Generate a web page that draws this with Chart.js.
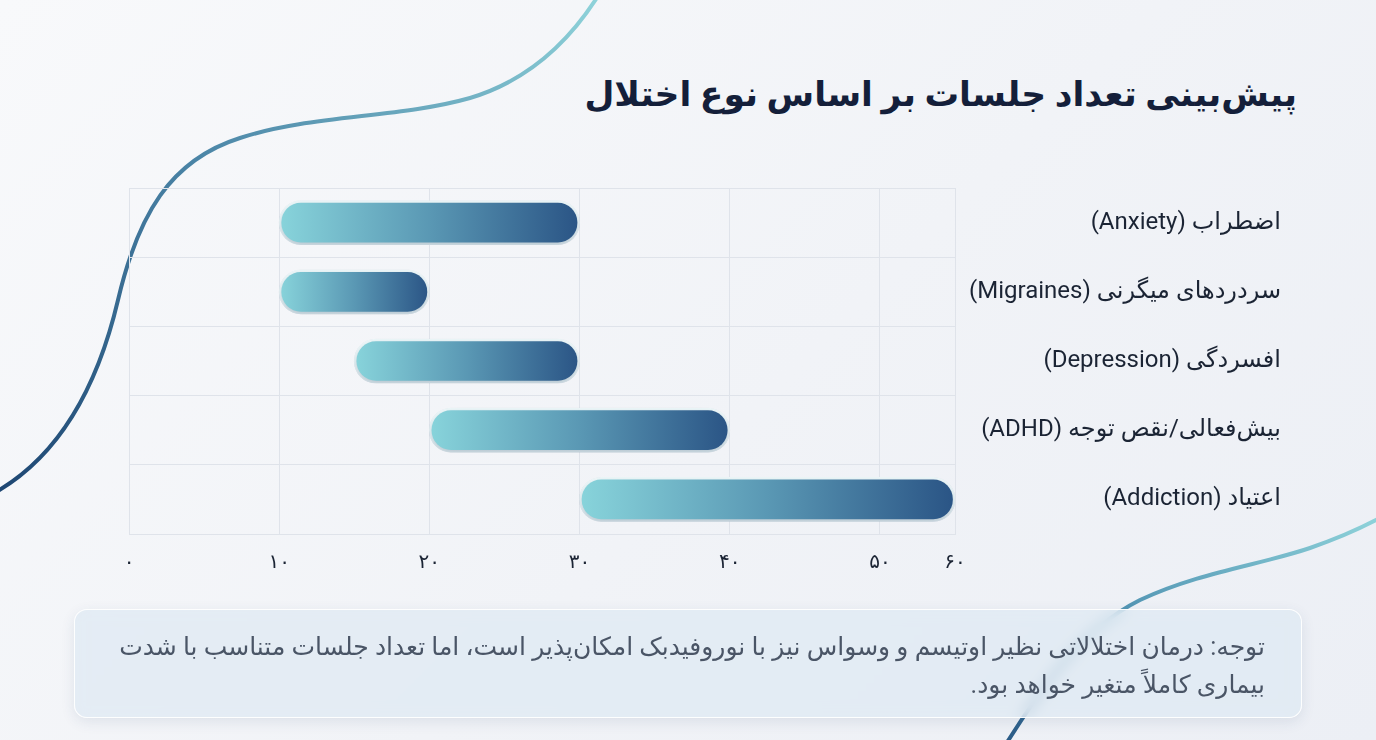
<!DOCTYPE html>
<html lang="fa">
<head>
<meta charset="utf-8">
<script src="https://cdn.jsdelivr.net/npm/chart.js@4/dist/chart.umd.min.js"></script>
<style>
  html,body{margin:0;padding:0;}
  body{width:1376px;height:740px;overflow:hidden;position:relative;
    background:linear-gradient(135deg,#f8f9fb 0%,#f1f3f7 55%,#eceff5 100%);
    font-family:Roboto,"DejaVu Sans",sans-serif;}
  #deco{position:absolute;left:0;top:0;width:1376px;height:740px;}
  #wrap{position:absolute;left:0;top:0;width:1376px;height:740px;}
  #c{direction:rtl;}
  #title{position:absolute;right:79px;top:74px;direction:rtl;white-space:nowrap;
    font-size:34.5px;font-weight:bold;color:#141f3a;}
  #note{position:absolute;left:74px;top:609px;width:1228px;height:109px;box-sizing:border-box;
    border-radius:13px;background:rgba(222,233,243,0.72);border:1.5px solid rgba(255,255,255,0.9);
    box-shadow:0 4px 14px rgba(40,70,110,0.10);backdrop-filter:blur(7px);-webkit-backdrop-filter:blur(7px);
    direction:rtl;text-align:right;padding:18px 36px 0 30px;color:#4a5566;font-size:25px;line-height:38px;white-space:nowrap;}
</style>
</head>
<body>
<svg id="deco" viewBox="0 0 1376 740">
  <defs>
    <linearGradient id="g1" x1="0" y1="1" x2="1" y2="0">
      <stop offset="0" stop-color="#1d4672"/>
      <stop offset="0.5" stop-color="#4a84a6"/>
      <stop offset="1" stop-color="#8fd3da"/>
    </linearGradient>
    <linearGradient id="g2" x1="0" y1="1" x2="1" y2="0">
      <stop offset="0" stop-color="#2a5a86"/>
      <stop offset="0.4" stop-color="#4d8fb0"/>
      <stop offset="1" stop-color="#8fd3da"/>
    </linearGradient>
  </defs>
  <path d="M -4 492 C 60 455, 98 385, 118 300 C 138 215, 170 160, 240 138 C 310 115, 400 118, 470 98 C 530 80, 570 40, 598 -4" fill="none" stroke="url(#g1)" stroke-width="4" stroke-linecap="round"/>
  <path d="M 1006 744 C 1040 690, 1080 630, 1140 600 C 1200 572, 1260 565, 1310 548 C 1345 536, 1365 526, 1380 518" fill="none" stroke="url(#g2)" stroke-width="4" stroke-linecap="round"/>
</svg>
<div id="title">پیش‌بینی تعداد جلسات بر اساس نوع اختلال</div>
<div id="wrap"><canvas id="c" width="1376" height="740"></canvas></div>
<div id="note">توجه: درمان اختلالاتی نظیر اوتیسم و وسواس نیز با نوروفیدبک امکان‌پذیر است، اما تعداد جلسات متناسب با شدت<br>بیماری کاملاً متغیر خواهد بود.</div>
<script>
const categories = ['اضطراب (Anxiety)', 'سردردهای میگرنی (Migraines)', 'افسردگی (Depression)', 'بیش‌فعالی/نقص توجه (ADHD)', 'اعتیاد (Addiction)'];
const sessionStart = [10, 10, 15, 20, 30];
const sessionEnd = [30, 20, 30, 40, 55];
const tickValues = [0, 10, 20, 30, 40, 50, 55];
const tickLabels = ['۰', '۱۰', '۲۰', '۳۰', '۴۰', '۵۰', '۶۰'];

const FONT = 'Roboto, "DejaVu Sans", sans-serif';

const shadowPlugin = {
  id: 'barShadow',
  beforeDatasetsDraw(chart) {
    const ctx = chart.ctx;
    ctx.save();
    ctx.shadowColor = 'rgba(30,60,95,0.30)';
    ctx.shadowBlur = 10;
    ctx.shadowOffsetY = 4;
  },
  afterDatasetsDraw(chart) { chart.ctx.restore(); }
};

function barGradient(c) {
  const chart = c.chart;
  const xs = chart.scales && chart.scales.x;
  const raw = c.raw;
  if (!chart.chartArea || !xs || !Array.isArray(raw)) return '#5a9ab5';
  const x0 = xs.getPixelForValue(raw[0]);
  const x1 = xs.getPixelForValue(raw[1]);
  const g = chart.ctx.createLinearGradient(x0, 0, x1, 0);
  g.addColorStop(0, '#88d4db');
  g.addColorStop(0.5, '#5a98b4');
  g.addColorStop(1, '#2a5485');
  return g;
}

new Chart(document.getElementById('c'), {
  type: 'bar',
  data: {
    labels: categories,
    datasets: [{
      data: sessionStart.map((s, i) => [s, sessionEnd[i]]),
      backgroundColor: barGradient,
      borderColor: '#f0fafb',
      borderWidth: 2.5,
      borderSkipped: false,
      borderRadius: 22,
      barThickness: 44
    }]
  },
  options: {
    indexAxis: 'y',
    responsive: false,
    animation: false,
    layout: { padding: { left: 129, top: 188, right: 95, bottom: 150 } },
    plugins: { legend: { display: false }, tooltip: { enabled: false }, title: { display: false } },
    scales: {
      x: {
        min: 0, max: 55,
        afterBuildTicks(scale) { scale.ticks = tickValues.map(v => ({ value: v })); },
        afterFit(scale) { scale.height = 56; },
        grid: { color: '#dfe3ea', lineWidth: 1, drawTicks: false },
        border: { color: '#dfe3ea' },
        ticks: {
          padding: 17,
          color: '#1b2434',
          font: { family: FONT, size: 20 },
          maxRotation: 0,
          autoSkip: false,
          callback: (v) => { const i = tickValues.indexOf(v); return i >= 0 ? tickLabels[i] : ''; }
        }
      },
      y: {
        position: 'right',
        afterFit(scale) { scale.width = 326; },
        grid: { color: '#dfe3ea', lineWidth: 1, drawTicks: false },
        border: { color: '#dfe3ea' },
        ticks: {
          crossAlign: 'far',
          color: '#1b2434',
          font: { family: FONT, size: 24 }
        }
      }
    }
  },
  plugins: [shadowPlugin]
});
</script>
</body>
</html>
